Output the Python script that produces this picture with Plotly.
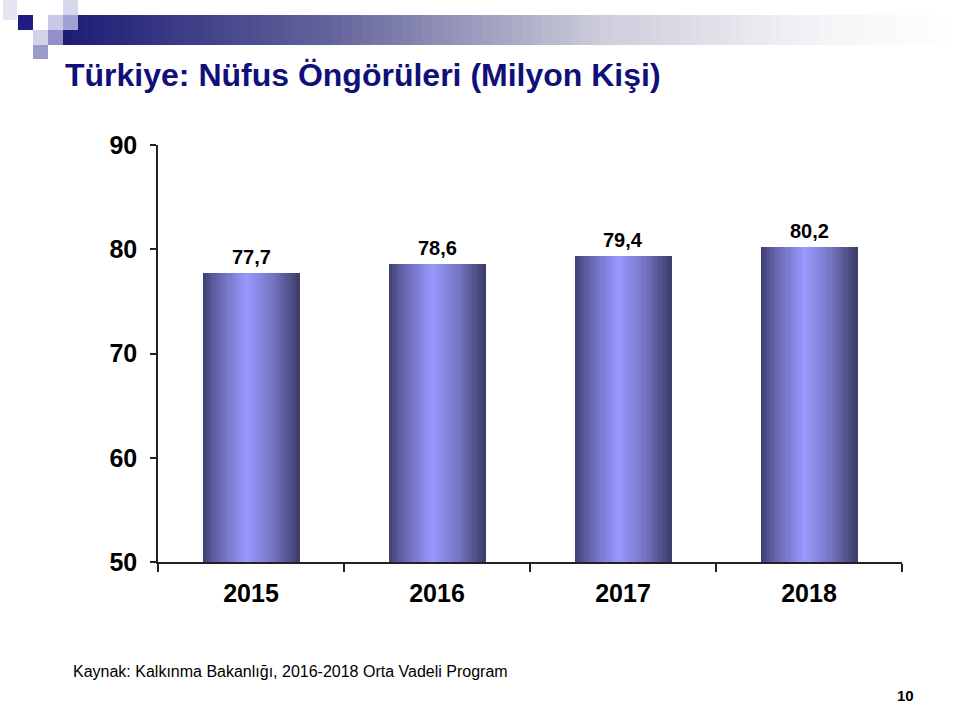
import plotly.graph_objects as go

# ---- data ----
years = ["2015", "2016", "2017", "2018"]
population = [77.7, 78.6, 79.4, 80.2]
y_ticks = [50, 60, 70, 80, 90]

title_text = "Türkiye: Nüfus Öngörüleri (Milyon Kişi)"
source_text = "Kaynak: Kalkınma Bakanlığı, 2016-2018 Orta Vadeli Program"
page_no = "10"

FONT = "Liberation Sans, Arial, sans-serif"

W, H = 960, 705
L, R, T, B = 158, 58, 145, 143
PW, PH = W - L - R, H - T - B


def px(x):
    return (x - L) / PW


def py(y):
    return (H - B - y) / PH


def lerp(c1, c2, t):
    return tuple(round(a + (b - a) * t) for a, b in zip(c1, c2))


def grad(stops, t):
    for (t0, c0), (t1, c1) in zip(stops, stops[1:]):
        if t0 <= t <= t1:
            return lerp(c0, c1, (t - t0) / (t1 - t0) if t1 > t0 else 0)
    return stops[-1][1]


bar_stops = [
    (0.0, (62, 62, 110)),
    (0.15, (100, 100, 172)),
    (0.45, (153, 153, 255)),
    (0.72, (118, 118, 196)),
    (1.0, (60, 60, 104)),
]

fig = go.Figure()

N = 30
bar_w = 0.52
slice_w = bar_w / N
for i in range(N):
    t = (i + 0.5) / N
    r, g, b = grad(bar_stops, t)
    fig.add_trace(go.Bar(
        x=years, y=population,
        width=slice_w * 1.15,
        offset=-bar_w / 2 + i * slice_w,
        marker=dict(color=f"rgb({r},{g},{b})", line=dict(width=0)),
        hoverinfo="skip", showlegend=False,
    ))

shapes = []
# header gradient bar
hdr_stops = [
    (0.0, (28, 28, 118)),
    (0.3, (100, 100, 156)),
    (0.6, (205, 205, 220)),
    (0.85, (245, 245, 248)),
    (1.0, (255, 255, 255)),
]
x0, x1 = 63, 960
M = 90
for i in range(M):
    t = (i + 0.5) / M
    r, g, b = grad(hdr_stops, t)
    xa = x0 + (x1 - x0) * i / M
    xb = x0 + (x1 - x0) * (i + 1) / M + 0.8
    shapes.append(dict(type="rect", xref="paper", yref="paper",
                       x0=px(xa), x1=px(xb), y0=py(45), y1=py(15),
                       fillcolor=f"rgb({r},{g},{b})", line=dict(width=0),
                       layer="below"))

squares = [
    (3, 0, 17, 20, "#e6e6f2"),
    (18, 15, 33, 30, "#1c1c82"),
    (48, 15, 63, 30, "#c9c9e6"),
    (63, 15, 78, 30, "#a2a2d2"),
    (63, 0, 78, 15, "#d6d6ec"),
    (33, 30, 48, 45, "#d2d2ea"),
    (48, 30, 63, 45, "#9191c8"),
    (33, 45, 48, 59, "#9a9acd"),
]
for xa, ya, xb, yb, c in squares:
    shapes.append(dict(type="rect", xref="paper", yref="paper",
                       x0=px(xa), x1=px(xb), y0=py(yb), y1=py(ya),
                       fillcolor=c, line=dict(width=0)))

annotations = [
    dict(text=title_text, xref="paper", yref="paper",
         x=px(63), y=py(75), xanchor="left", yanchor="middle",
         showarrow=False,
         font=dict(family=FONT, size=32, color="#10107a", weight="bold")),
    dict(text=source_text, xref="paper", yref="paper",
         x=px(71), y=py(671), xanchor="left", yanchor="middle",
         showarrow=False,
         font=dict(family=FONT, size=16, color="black")),
    dict(text=page_no, xref="paper", yref="paper",
         x=px(905), y=py(695), xanchor="center", yanchor="middle",
         showarrow=False,
         font=dict(family=FONT, size=15, color="black", weight="bold")),
]

# data labels above bars (category index positions on the x axis)
for idx, v in enumerate(population):
    annotations.append(dict(
        x=idx, y=v, xref="x", yref="y", text=f"{v:.1f}".replace(".", ","),
        showarrow=False, yanchor="middle", yshift=16,
        font=dict(family=FONT, size=20, color="black", weight="bold")))

fig.update_layout(
    width=W, height=H,
    margin=dict(l=L, r=R, t=T, b=B),
    paper_bgcolor="white", plot_bgcolor="white",
    barmode="overlay", bargap=0,
    separators=",.",
    shapes=shapes, annotations=annotations,
    xaxis=dict(type="category", categoryorder="array", categoryarray=years,
               range=[-0.5, 3.5],
               showline=True, linecolor="#222", linewidth=1.5,
               ticks="outside", tickson="boundaries", ticklen=8,
               tickwidth=1.5, tickcolor="#222",
               showgrid=False, zeroline=False,
               ticklabelstandoff=8,
               tickfont=dict(family=FONT, size=25, color="black", weight="bold")),
    yaxis=dict(range=[50, 90], tickvals=y_ticks,
               showline=True, linecolor="#222", linewidth=1.5,
               ticks="outside", ticklen=6, tickwidth=1.5, tickcolor="#222",
               showgrid=False, zeroline=False,
               ticklabelstandoff=8,
               tickfont=dict(family=FONT, size=25, color="black", weight="bold")),
)

fig.write_html("out.html")
